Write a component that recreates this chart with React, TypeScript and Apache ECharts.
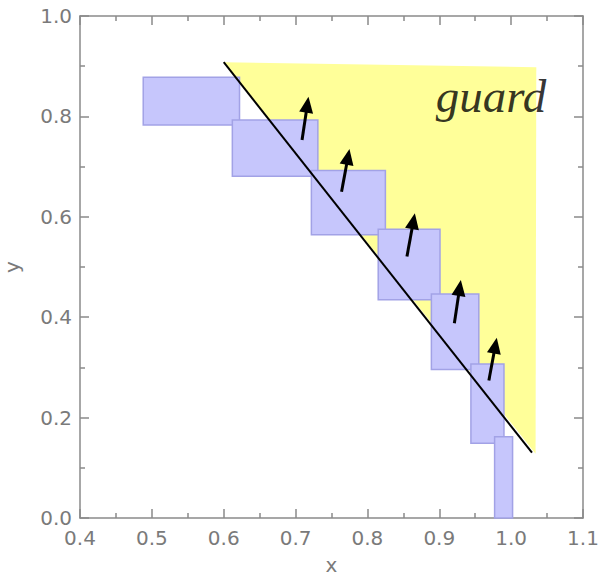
import React, { useEffect, useRef } from "react";
import * as echarts from "echarts";

// Blue boxes (x range, y range)
const boxX0 = [0.488, 0.612, 0.722, 0.815, 0.889, 0.944, 0.977];
const boxX1 = [0.622, 0.731, 0.825, 0.901, 0.955, 0.99, 1.002];
const boxY0 = [0.783, 0.681, 0.564, 0.435, 0.296, 0.149, 0.0];
const boxY1 = [0.878, 0.793, 0.692, 0.575, 0.446, 0.307, 0.162];

// Arrows (tail -> tip)
const arrowTailX = [0.709, 0.764, 0.855, 0.921, 0.969];
const arrowTailY = [0.753, 0.65, 0.521, 0.388, 0.274];
const arrowTipX = [0.718, 0.775, 0.866, 0.93, 0.98];
const arrowTipY = [0.839, 0.735, 0.607, 0.474, 0.359];

// Guard region (yellow polygon)
const guardX = [0.6, 1.035, 1.034];
const guardY = [0.908, 0.898, 0.128];

// Diagonal line
const lineX = [0.6, 1.029];
const lineY = [0.908, 0.13];

const guardLabel = "guard";
const guardLabelPos = [0.972, 0.84];

const axisColor = "#8a8a8a";
const labelColor = "#7a7a7a";

export default function App() {
  const ref = useRef<HTMLDivElement>(null);
  useEffect(() => {
    document.body.style.margin = "0";
    const chart = echarts.init(ref.current!, undefined, { renderer: "svg" });
    const tickStyle = { color: axisColor, width: 1.5 };
    const baseAxis = {
      type: "value",
      axisLine: { show: true, onZero: false, lineStyle: { color: axisColor, width: 1.5 } },
      axisTick: { show: true, inside: true, length: 9, lineStyle: tickStyle },
      minorTick: { show: true, splitNumber: 2, length: 5, lineStyle: tickStyle },
      splitLine: { show: false },
      minorSplitLine: { show: false },
    };
    const labelStyle = {
      color: labelColor,
      fontSize: 20,
      fontFamily: "DejaVu Sans",
      formatter: (v: number) => v.toFixed(1),
    };
    chart.setOption({
      animation: false,
      grid: {
        left: 80,
        right: 15,
        top: 16,
        bottom: 58,
        containLabel: false,
        outerBoundsMode: "none",
      },
      xAxis: [
        {
          ...baseAxis,
          min: 0.4,
          max: 1.1,
          interval: 0.1,
          position: "bottom",
          axisLabel: { ...labelStyle, margin: 10 },
          name: "x",
          nameLocation: "middle",
          nameGap: 40,
          nameTextStyle: {
            color: labelColor,
            fontSize: 20,
            lineHeight: 14,
            fontFamily: "DejaVu Sans",
          },
        },
        {
          ...baseAxis,
          min: 0.4,
          max: 1.1,
          interval: 0.1,
          position: "top",
          axisLabel: { show: false },
        },
      ],
      yAxis: [
        {
          ...baseAxis,
          min: 0,
          max: 1,
          interval: 0.2,
          position: "left",
          axisLabel: { ...labelStyle, margin: 8 },
          name: "y",
          nameLocation: "middle",
          nameGap: 58,
          nameTextStyle: { color: labelColor, fontSize: 20, fontFamily: "DejaVu Sans" },
        },
        {
          ...baseAxis,
          min: 0,
          max: 1,
          interval: 0.2,
          position: "right",
          axisLabel: { show: false },
        },
      ],
      series: [
        {
          type: "custom",
          xAxisIndex: 0,
          yAxisIndex: 0,
          z: 1,
          data: [[guardX[0], guardY[0]]],
          renderItem: (_p: any, api: any) => {
            const pts = guardX.map((x, i) => api.coord([x, guardY[i]]));
            return {
              type: "polygon",
              shape: { points: pts },
              style: { fill: "#ffff99", stroke: "none" },
            };
          },
        },
        {
          type: "custom",
          xAxisIndex: 0,
          yAxisIndex: 0,
          z: 2,
          data: boxX0.map((x0, i) => [x0, boxY0[i], boxX1[i], boxY1[i]]),
          renderItem: (_p: any, api: any) => {
            const p0 = api.coord([api.value(0), api.value(1)]);
            const p1 = api.coord([api.value(2), api.value(3)]);
            return {
              type: "rect",
              shape: { x: p0[0], y: p1[1], width: p1[0] - p0[0], height: p0[1] - p1[1] },
              style: { fill: "#c6c6fc", stroke: "#a2a2e6", lineWidth: 1.5 },
            };
          },
        },
        {
          type: "line",
          xAxisIndex: 0,
          yAxisIndex: 0,
          z: 3,
          symbol: "none",
          data: lineX.map((x, i) => [x, lineY[i]]),
          lineStyle: { color: "#000", width: 2 },
        },
        {
          type: "custom",
          xAxisIndex: 0,
          yAxisIndex: 0,
          z: 4,
          data: arrowTailX.map((x, i) => [x, arrowTailY[i], arrowTipX[i], arrowTipY[i]]),
          renderItem: (_p: any, api: any) => {
            const a = api.coord([api.value(0), api.value(1)]);
            const b = api.coord([api.value(2), api.value(3)]);
            const dx = b[0] - a[0];
            const dy = b[1] - a[1];
            const len = Math.sqrt(dx * dx + dy * dy);
            const ux = dx / len;
            const uy = dy / len;
            const hl = 16;
            const hw = 7;
            const bx = b[0] - ux * hl;
            const by = b[1] - uy * hl;
            return {
              type: "group",
              children: [
                {
                  type: "line",
                  shape: { x1: a[0], y1: a[1], x2: bx + ux * 2, y2: by + uy * 2 },
                  style: { stroke: "#000", lineWidth: 3 },
                },
                {
                  type: "polygon",
                  shape: {
                    points: [
                      [b[0], b[1]],
                      [bx - uy * hw, by + ux * hw],
                      [bx + uy * hw, by - ux * hw],
                    ],
                  },
                  style: { fill: "#000" },
                },
              ],
            };
          },
        },
        {
          type: "scatter",
          xAxisIndex: 0,
          yAxisIndex: 0,
          z: 5,
          symbolSize: 0,
          data: [[guardLabelPos[0], guardLabelPos[1]]],
          label: {
            show: true,
            position: "inside",
            formatter: guardLabel,
            color: "#000",
            fontSize: 47,
            fontStyle: "italic",
            fontFamily: "Liberation Serif",
          },
          silent: true,
        },
      ],
    });
    return () => chart.dispose();
  }, []);
  return (
    <div
      ref={ref}
      style={{ position: "absolute", left: 0, top: 0, width: 598, height: 576 }}
    />
  );
}
